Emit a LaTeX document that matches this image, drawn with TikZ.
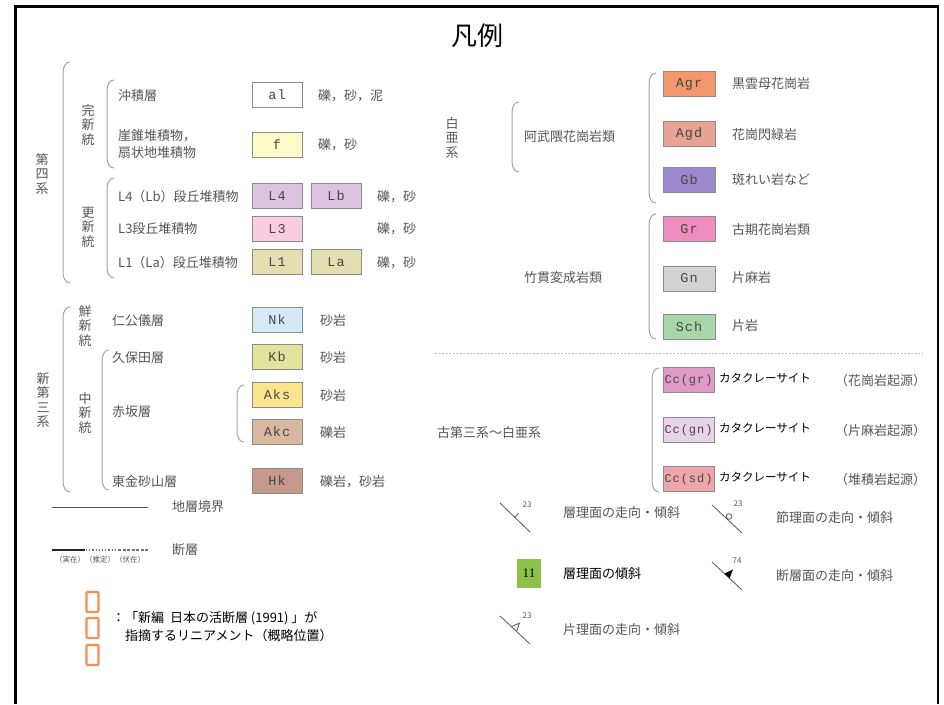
\documentclass[tikz,border=0pt]{standalone}
\usepackage{fontspec}
\setmainfont{Noto Sans CJK JP}
\newfontfamily\kigoufont[LetterSpace=8]{Liberation Mono}
\newfontfamily\suujifont{Liberation Serif}
\usepackage{xcolor}
\usepackage{tikz}
\usetikzlibrary{arrows.meta}
\definecolor{txt}{HTML}{555555}
\definecolor{waku}{HTML}{8C8C8C}
\definecolor{kakkoiro}{HTML}{A5A5A5}
\definecolor{cF}{HTML}{FFFBC8}
\definecolor{cLfour}{HTML}{DCC4E0}
\definecolor{cLthree}{HTML}{F9CCE0}
\definecolor{cLone}{HTML}{E4DFB0}
\definecolor{cNk}{HTML}{D4EAF7}
\definecolor{cKb}{HTML}{E2E49E}
\definecolor{cAks}{HTML}{FDE58E}
\definecolor{cAkc}{HTML}{D8B8A0}
\definecolor{cHk}{HTML}{C6998A}
\definecolor{cAgr}{HTML}{F4976C}
\definecolor{cAgd}{HTML}{E8A393}
\definecolor{cGb}{HTML}{9C88CC}
\definecolor{cGr}{HTML}{F08DBF}
\definecolor{cGn}{HTML}{D3D3D3}
\definecolor{cSch}{HTML}{A9D6A9}
\definecolor{cCcgr}{HTML}{E09AC8}
\definecolor{cCcgn}{HTML}{E9D3EB}
\definecolor{cCcsd}{HTML}{EFA6A8}
\definecolor{cJuichi}{HTML}{8BC34A}
\definecolor{orenji}{HTML}{F58F55}
\newcommand{\kakkodraw}[3]{\draw[kakko] (#1+7,#2) to[out=180,in=90] (#1,#2+11) -- (#1,#3-11) to[out=-90,in=180] (#1+7,#3);}

\begin{document}
\begin{tikzpicture}[x=1pt,y=-1pt,
  lbl/.style={anchor=west,inner sep=0pt,text=txt,align=left,font=\fontsize{13}{17}\selectfont},
  kuro/.style={anchor=west,inner sep=0pt,text=black,align=left,font=\fontsize{13}{18}\selectfont},
  tate/.style={inner sep=0pt,text=txt,align=center,font=\fontsize{13}{14.5}\selectfont},
  chiso/.style={draw=waku,line width=0.8pt,minimum width=50pt,minimum height=25pt,inner sep=0pt,text=black!72,font=\kigoufont\fontsize{13.5}{13.5}\selectfont},
  cc/.style={chiso,minimum width=51pt,font=\kigoufont\fontsize{12}{12}\selectfont},
  kakko/.style={draw=kakkoiro,line width=1pt},
  kigou/.style={draw=txt,line width=0.8pt},
  suji/.style={inner sep=0pt,text=txt,font=\fontsize{8}{8}\selectfont},
  oren/.style={draw=orenji,line width=2.2pt,rounded corners=1pt,minimum width=12pt,minimum height=20pt,inner sep=0pt}]
\useasboundingbox (0,0) rectangle (944,704);
\draw[line width=2.5pt] (15.5,704) -- (15.5,6.5) -- (938,6.5) -- (938,704);
\node[inner sep=0pt,font=\fontsize{26}{26}\selectfont] (title) at (477,36) {凡例};

% 第四系
\kakkodraw{63}{62}{283}
\kakkodraw{107}{80}{168}
\kakkodraw{107}{178}{278}
\node[tate] (daiyonkei) at (42,174) {第\\四\\系};
\node[tate] (kanshin) at (88,125) {完\\新\\統};
\node[tate] (koushin) at (88,227) {更\\新\\統};
\node[lbl] (al-t) at (118,96) {沖積層};
\node[lbl] (f-t) at (118,144) {崖錐堆積物，\\扇状地堆積物};
\node[lbl] (L4-t) at (118,197) {L4（Lb）段丘堆積物};
\node[lbl] (L3-t) at (118,229) {L3段丘堆積物};
\node[lbl] (L1-t) at (118,263) {L1（La）段丘堆積物};
\node[chiso,fill=white] (al) at (277,95) {al};
\node[chiso,fill=cF] (f) at (277,145) {f};
\node[chiso,fill=cLfour] (L4) at (277,196) {L4};
\node[chiso,fill=cLfour] (Lb) at (336,196) {Lb};
\node[chiso,fill=cLthree] (L3) at (277,229) {L3};
\node[chiso,fill=cLone] (L1) at (277,262) {L1};
\node[chiso,fill=cLone] (La) at (336,262) {La};
\node[lbl] (al-g) at (318,96) {礫，砂，泥};
\node[lbl] (f-g) at (318,145) {礫，砂};
\node[lbl] (L4-g) at (377,197) {礫，砂};
\node[lbl] (L3-g) at (377,229) {礫，砂};
\node[lbl] (L1-g) at (377,263) {礫，砂};

% 新第三系
\kakkodraw{63}{307}{492}
\kakkodraw{102}{350}{490}
\kakkodraw{237}{385}{442}
\node[tate] (shindaisan) at (43,400) {新\\第\\三\\系};
\node[tate] (senshin) at (85,326) {鮮\\新\\統};
\node[tate] (chushin) at (85,413) {中\\新\\統};
\node[lbl] (Nk-t) at (112,321) {仁公儀層};
\node[lbl] (Kb-t) at (112,358) {久保田層};
\node[lbl] (Ak-t) at (112,412) {赤坂層};
\node[lbl] (Hk-t) at (112,482) {東金砂山層};
\node[chiso,fill=cNk] (Nk) at (277,320) {Nk};
\node[chiso,fill=cKb] (Kb) at (277,357) {Kb};
\node[chiso,fill=cAks] (Aks) at (277,395) {Aks};
\node[chiso,fill=cAkc] (Akc) at (277,432) {Akc};
\node[chiso,fill=cHk] (Hk) at (277,481) {Hk};
\node[lbl] (Nk-g) at (320,321) {砂岩};
\node[lbl] (Kb-g) at (320,358) {砂岩};
\node[lbl] (Aks-g) at (320,396) {砂岩};
\node[lbl] (Akc-g) at (320,433) {礫岩};
\node[lbl] (Hk-g) at (320,482) {礫岩，砂岩};

% 地層境界・断層
\draw[txt,line width=1pt] (52,507) -- (148,507);
\node[lbl] (kyoukai) at (172,507) {地層境界};
\draw[black!85,line width=2pt] (52,550) -- (85,550);
\draw[black!55,line width=1.2pt,dotted] (86,550) -- (117,550);
\draw[black!55,line width=1.2pt,dash pattern=on 3pt off 1.5pt] (118,550) -- (148,550);
\node[inner sep=0pt,text=txt,font=\fontsize{7.5}{8}\selectfont] (dansou-rei) at (100,560) {（実在）（推定）（伏在）};
\node[lbl] (dansou) at (172,550) {断層};

% リニアメント
\node[oren] (lin1) at (92.5,602) {};
\node[oren] (lin2) at (92.5,628) {};
\node[oren] (lin3) at (92.5,655) {};
\node[kuro,anchor=north west] (lin-t) at (112,611) {：「新編\ \ 日本の活断層 (1991) 」が\\\hspace{13pt}指摘するリニアメント（概略位置）};

% 白亜系
\node[tate] (hakuaki) at (452,138) {白\\亜\\系};
\kakkodraw{512}{102}{172}
\kakkodraw{649}{73}{203}
\kakkodraw{649}{214}{339}
\node[lbl] (abukuma) at (524,137) {阿武隈花崗岩類};
\node[lbl] (takanuki) at (524,278) {竹貫変成岩類};
\node[chiso,fill=cAgr,minimum width=52pt] (Agr) at (689,84) {Agr};
\node[chiso,fill=cAgd,minimum width=52pt] (Agd) at (689,134) {Agd};
\node[chiso,fill=cGb,minimum width=52pt] (Gb) at (689,179.5) {Gb};
\node[chiso,fill=cGr,minimum width=52pt] (Gr) at (689,229) {Gr};
\node[chiso,fill=cGn,minimum width=52pt] (Gn) at (689,278.5) {Gn};
\node[chiso,fill=cSch,minimum width=52pt] (Sch) at (689,327) {Sch};
\node[lbl] (Agr-t) at (732,84) {黒雲母花崗岩};
\node[lbl] (Agd-t) at (732,135) {花崗閃緑岩};
\node[lbl] (Gb-t) at (732,180) {斑れい岩など};
\node[lbl] (Gr-t) at (732,230) {古期花崗岩類};
\node[lbl] (Gn-t) at (732,278) {片麻岩};
\node[lbl] (Sch-t) at (732,326) {片岩};

\draw[gray!55,line width=0.8pt,dash pattern=on 2pt off 1.5pt] (435,353) -- (922,353);

% 古第三系〜白亜系
\kakkodraw{652}{368}{492}
\node[lbl] (kodaisan) at (437,433) {古第三系〜白亜系};
\node[cc,fill=cCcgr] (Ccgr) at (688.5,380) {Cc(gr)};
\node[cc,fill=cCcgn] (Ccgn) at (688.5,430) {Cc(gn)};
\node[cc,fill=cCcsd] (Ccsd) at (688.5,479) {Cc(sd)};
\node[kuro,font=\fontsize{11.5}{12}\selectfont] (Ccgr-t) at (719,378) {カタクレーサイト};
\node[kuro,font=\fontsize{11.5}{12}\selectfont] (Ccgn-t) at (719,428) {カタクレーサイト};
\node[kuro,font=\fontsize{11.5}{12}\selectfont] (Ccsd-t) at (719,477) {カタクレーサイト};
\node[lbl] (Ccgr-k) at (835,381) {（花崗岩起源）};
\node[lbl] (Ccgn-k) at (835,431) {（片麻岩起源）};
\node[lbl] (Ccsd-k) at (835,480) {（堆積岩起源）};

% 走向・傾斜
\draw[kigou] (500,503) -- (530,532);
\draw[kigou] (515,517.5) -- (518.5,513);
\node[suji] (souri-n) at (527,505) {23};
\node[lbl] (souri) at (563,513) {層理面の走向・傾斜};
\draw[kigou] (712,505) -- (742,533);
\draw[kigou,fill=white] (729,516.5) circle[radius=2.8pt];
\node[suji] (setsuri-n) at (738,504) {23};
\node[lbl] (setsuri) at (776,518) {節理面の走向・傾斜};
\node[fill=cJuichi,minimum width=24pt,minimum height=29pt,inner sep=0pt,font=\suujifont\fontsize{13}{13}\selectfont] (juichi) at (529,573.5) {11};
\node[kuro] (keisha) at (563,574) {層理面の傾斜};
\draw[kigou] (712,562) -- (742,590);
\fill[black] (724.4,573.6) -- (733,569.4) -- (729.6,578.4) -- cycle;
\node[suji] (dansoumen-n) at (737,561) {74};
\node[lbl] (dansoumen) at (776,576) {断層面の走向・傾斜};
\draw[kigou] (500,616) -- (530,644);
\draw[kigou] (511.4,626.6) -- (519.4,623.2) -- (516.6,631.4);
\node[suji] (henri-n) at (527,616) {23};
\node[lbl] (henri) at (563,630) {片理面の走向・傾斜};
\end{tikzpicture}
\end{document}
